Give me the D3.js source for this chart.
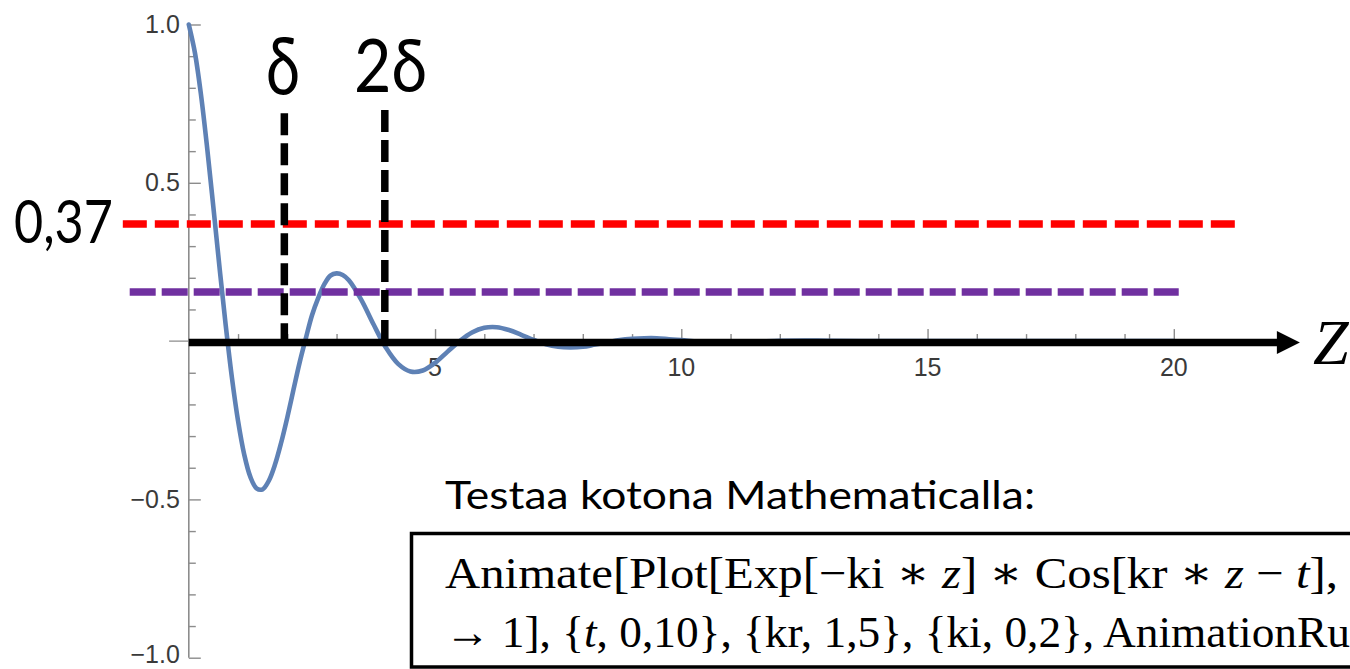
<!DOCTYPE html>
<html>
<head>
<meta charset="utf-8">
<script src="https://cdn.jsdelivr.net/npm/d3@7"></script>
<style>
  html, body { margin: 0; padding: 0; background: #fff; overflow: hidden; }
  svg { display: block; }
</style>
</head>
<body>
<svg id="chart" width="1350" height="669"></svg>
<script>
// Damped wave along z: sample positions and field values
const zSamples = [
  0, 0.125, 0.25, 0.375, 0.5, 0.625, 0.75, 0.875, 1, 1.125, 1.25, 1.375, 1.5, 1.625, 1.75, 1.875,
  2, 2.125, 2.25, 2.375, 2.5, 2.625, 2.75, 2.875, 3, 3.125, 3.25, 3.5, 3.75,
  4, 4.25, 4.5, 4.75, 5, 5.25, 5.5, 5.75, 6, 6.25, 6.5, 6.75, 7, 7.25, 7.5, 7.75,
  8, 8.25, 8.5, 8.75, 9, 9.25, 9.5, 9.75, 10,
  10.5, 11, 11.5, 12, 12.5, 13, 14, 15, 16, 17, 18, 19, 20
];
const fieldValues = [
  1.000, 0.910, 0.775, 0.607, 0.421, 0.231, 0.049, -0.115, -0.252, -0.358, -0.429, -0.465, -0.468, -0.441, -0.390, -0.321,
  -0.241, -0.154, -0.068, 0.008, 0.081, 0.135, 0.179, 0.207, 0.214, 0.209, 0.192, 0.131, 0.053,
  -0.020, -0.072, -0.096, -0.093, -0.069, -0.034, 0.000, 0.027, 0.042, 0.044, 0.035, 0.020, 0.004, -0.010, -0.018, -0.020,
  -0.018, -0.011, -0.004, 0.003, 0.007, 0.009, 0.009, 0.006, 0.003,
  -0.003, -0.004, -0.002, 0.001, 0.002, 0.001, 0, 0, 0, 0, 0, 0, 0
];

// Axis ticks
const xTickValues = [5, 10, 15, 20];
const xTickLabels = ["5", "10", "15", "20"];
const yTickValues = [1.0, 0.5, -0.5, -1.0];
const yTickLabels = ["1.0", "0.5", "\u22120.5", "\u22121.0"];

// Reference levels (dashed horizontals)
const levelValues = [0.37, 0.155];
const levelStart = [-1.34, -1.2];
const levelEnd = [21.28, 20.1];

// Penetration depth markers (dashed verticals)
const depthPositions = [1.94, 3.98];
const depthTops = [0.72, 0.73];
const depthLabels = ["δ", "2δ"];

const svg = d3.select("#chart");

const x = d3.scaleLinear().domain([0, 20]).range([188.8, 1173.8]);
const y = d3.scaleLinear().domain([-1, 1]).range([657.7, 24.5]);

const axisGray = "#8c8c8c";
const labelGray = "#3a3a3a";
const tickFont = "'Liberation Sans', Arial, sans-serif";

// ---- y axis (ticks pointing inward) ----
const yAxis = svg.append("g").attr("transform", `translate(${x(0)},0)`)
  .call(d3.axisRight(y)
    .tickValues(d3.range(-10, 11).map(d => d / 10))
    .tickSize(7)
    .tickFormat(""));
yAxis.select(".domain").attr("stroke", axisGray).attr("stroke-width", 1.6)
  .attr("d", `M0,${y(1)}H0V${y(-1)}H0`);
yAxis.selectAll(".tick line").attr("stroke", axisGray).attr("stroke-width", 1.4)
  .attr("x2", d => (Math.abs(d * 2 - Math.round(d * 2)) < 1e-9 ? 12 : 7));

svg.append("g").selectAll("text").data(yTickValues).join("text")
  .attr("x", x(0) - 9)
  .attr("y", d => y(d))
  .attr("dy", d => (d === -1 ? "0.22em" : "0.34em"))
  .attr("text-anchor", "end")
  .style("font-family", tickFont)
  .style("font-size", "25px")
  .attr("fill", labelGray)
  .text((d, i) => yTickLabels[i]);

// ---- x axis (thin gray base with upward ticks) ----
svg.append("line")
  .attr("x1", x(-0.4)).attr("x2", x(20))
  .attr("y1", y(0)).attr("y2", y(0))
  .attr("stroke", axisGray).attr("stroke-width", 1.4);

const xAxis = svg.append("g").attr("transform", `translate(0,${y(0)})`)
  .call(d3.axisTop(x).tickValues(d3.range(1, 21)).tickSize(7).tickFormat(""));
xAxis.select(".domain").remove();
xAxis.selectAll(".tick line").attr("stroke", axisGray).attr("stroke-width", 1.4)
  .attr("y2", d => (d % 5 === 0 ? -12 : -7));

svg.append("g").selectAll("text").data(xTickValues).join("text")
  .attr("x", d => x(d))
  .attr("y", y(0) + 35)
  .attr("text-anchor", "middle")
  .style("font-family", tickFont)
  .style("font-size", "25px")
  .attr("fill", labelGray)
  .text((d, i) => xTickLabels[i]);

// ---- the damped wave ----
const wave = zSamples.map((z, i) => [z, fieldValues[i]]);
svg.append("path")
  .datum(wave)
  .attr("fill", "none")
  .attr("stroke", "#5E81B5")
  .attr("stroke-width", 4.6)
  .attr("stroke-linejoin", "round")
  .attr("stroke-linecap", "round")
  .attr("d", d3.line().x(d => x(d[0])).y(d => y(d[1])).curve(d3.curveCatmullRom.alpha(0.5)));

// ---- reference levels ----
const levelColors = ["#FF0000", "#7030A0"];
const levelDash = ["24 8", "26 6"];
svg.append("g").selectAll("line").data(levelValues).join("line")
  .attr("x1", (d, i) => x(levelStart[i]))
  .attr("x2", (d, i) => x(levelEnd[i]))
  .attr("y1", d => y(d))
  .attr("y2", d => y(d))
  .attr("stroke", (d, i) => levelColors[i])
  .attr("stroke-width", 7.5)
  .attr("stroke-dasharray", (d, i) => levelDash[i]);

// ---- depth markers ----
svg.append("g").selectAll("line").data(depthPositions).join("line")
  .attr("x1", d => x(d)).attr("x2", d => x(d))
  .attr("y1", (d, i) => y(depthTops[i]))
  .attr("y2", y(0))
  .attr("stroke", "#000")
  .attr("stroke-width", 7.5)
  .attr("stroke-dasharray", "22 8");

// ---- bold z axis with arrow ----
const axisEnd = 22.1, arrowTip = 22.56;
svg.append("line")
  .attr("x1", x(0)).attr("x2", x(axisEnd) + 2)
  .attr("y1", y(0) + 1.5).attr("y2", y(0) + 1.5)
  .attr("stroke", "#000").attr("stroke-width", 7.5);
svg.append("path")
  .attr("d", `M${x(arrowTip)},${y(0) + 1.5}L${x(arrowTip) - 23},${y(0) + 1.5 - 11.5}L${x(arrowTip) - 23},${y(0) + 1.5 + 11.5}Z`)
  .attr("fill", "#000");
svg.append("text")
  .attr("x", 1313).attr("y", 364)
  .attr("font-family", "'Liberation Serif', 'DejaVu Serif', serif")
  .attr("font-style", "italic")
  .attr("font-size", 64)
  .attr("fill", "#000")
  .text("Z");

// ---- handwritten annotations ----
const hand = "'Lato', 'Open Sans', sans-serif";
const handNotes = svg.append("g")
  .attr("font-family", hand)
  .attr("fill", "#000");
handNotes.append("text")
  .attr("x", 266).attr("y", 94)
  .attr("font-size", 80)
  .attr("textLength", 34).attr("lengthAdjust", "spacingAndGlyphs")
  .text(depthLabels[0]);
handNotes.append("text")
  .attr("x", 354).attr("y", 92)
  .attr("font-size", 74)
  .attr("textLength", 73).attr("lengthAdjust", "spacingAndGlyphs")
  .text(depthLabels[1]);
handNotes.append("text")
  .attr("x", 14).attr("y", 243)
  .attr("font-size", 60)
  .attr("textLength", 99).attr("lengthAdjust", "spacingAndGlyphs")
  .text("0,37");

// ---- note and code box ----
svg.append("text")
  .attr("x", 445).attr("y", 509)
  .attr("font-family", "'Lato', 'Open Sans', sans-serif")
  .attr("font-size", 39)
  .attr("textLength", 590).attr("lengthAdjust", "spacingAndGlyphs")
  .attr("fill", "#000")
  .text("Testaa kotona Mathematicalla:");

svg.append("rect")
  .attr("x", 411.5).attr("y", 533.5)
  .attr("width", 1000).attr("height", 133.5)
  .attr("fill", "none").attr("stroke", "#000").attr("stroke-width", 3.5);

const serif = "'Liberation Serif', 'DejaVu Serif', serif";
const line1 = svg.append("text")
  .attr("x", 445).attr("y", 588)
  .attr("font-family", serif).attr("font-size", 45)
  .attr("textLength", 893).attr("lengthAdjust", "spacingAndGlyphs")
  .attr("fill", "#000");
[["Animate[Plot[Exp[\u2212ki \u2217 ", false], ["z", true], ["] \u2217 Cos[kr \u2217 ", false], ["z", true], [" \u2212 ", false], ["t", true], ["],", false]]
  .forEach(([s, it]) => line1.append("tspan").attr("font-style", it ? "italic" : "normal").text(s));

const line2 = svg.append("text")
  .attr("x", 445).attr("y", 647)
  .attr("font-family", serif).attr("font-size", 45)
  .attr("textLength", 905).attr("lengthAdjust", "spacingAndGlyphs")
  .attr("fill", "#000");
[["\u2192 1], {", false], ["t", true], [", 0,10}, {kr, 1,5}, {ki, 0,2}, AnimationRu", false]]
  .forEach(([s, it]) => line2.append("tspan").attr("font-style", it ? "italic" : "normal").text(s));
</script>
</body>
</html>
